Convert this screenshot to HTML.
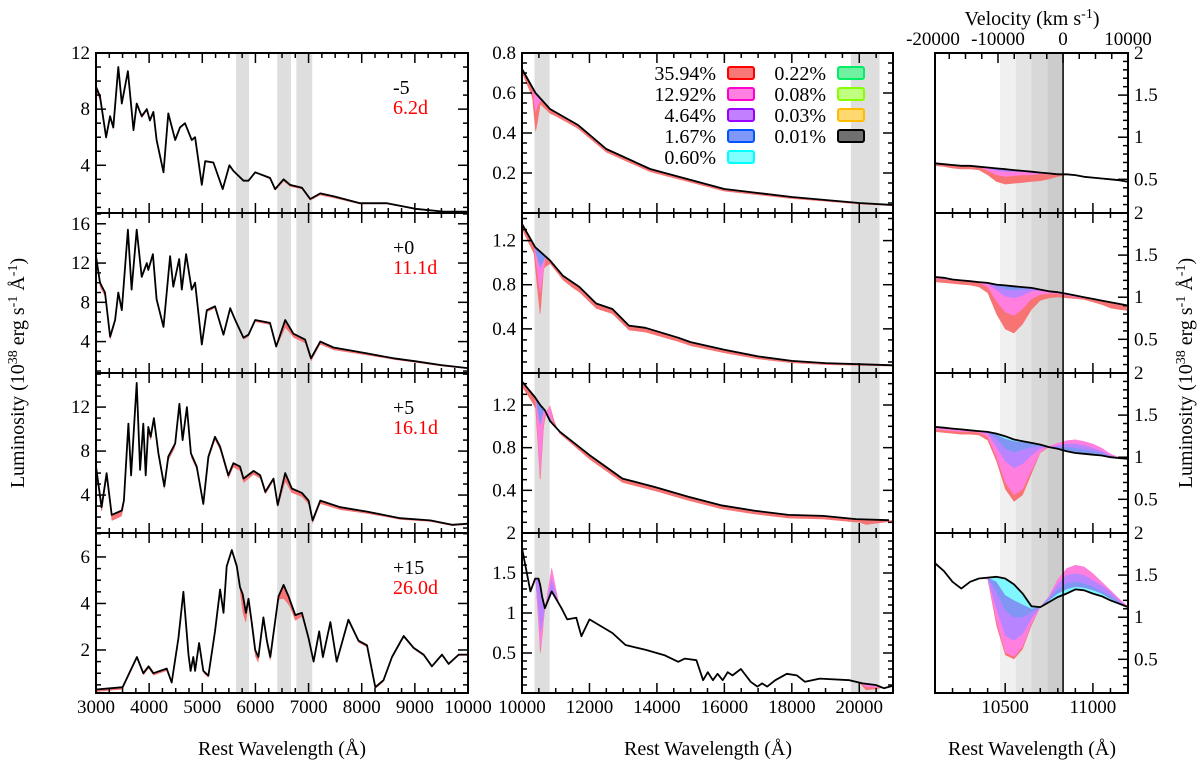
<!DOCTYPE html>
<html><head><meta charset="utf-8"><title>Spectra figure</title>
<style>
html,body{margin:0;padding:0;background:#fff;}
svg, svg text{font-family:"Liberation Serif","Times New Roman","DejaVu Serif",serif;}
</style></head>
<body>
<svg id="fig" width="1200" height="762" viewBox="0 0 1200 762" xmlns="http://www.w3.org/2000/svg" font-family="Liberation Serif, Times New Roman, serif">
<g id="bands"></g>
<g id="marks"></g>
<g id="axes"></g>
<text transform="translate(24,373) rotate(-90)" text-anchor="middle" font-size="20">Luminosity (10<tspan dy="-7" font-size="14">38</tspan><tspan dy="7"> erg s</tspan><tspan dy="-7" font-size="14">-1</tspan><tspan dy="7"> Å</tspan><tspan dy="-7" font-size="14">-1</tspan><tspan dy="7">)</tspan></text>
<text transform="translate(1192,373) rotate(-90)" text-anchor="middle" font-size="20">Luminosity (10<tspan dy="-7" font-size="14">38</tspan><tspan dy="7"> erg s</tspan><tspan dy="-7" font-size="14">-1</tspan><tspan dy="7"> Å</tspan><tspan dy="-7" font-size="14">-1</tspan><tspan dy="7">)</tspan></text>
<text x="282" y="755" text-anchor="middle" font-size="20">Rest Wavelength (Å)</text>
<text x="708" y="755" text-anchor="middle" font-size="20">Rest Wavelength (Å)</text>
<text x="1032" y="755" text-anchor="middle" font-size="20">Rest Wavelength (Å)</text>
<text x="1032" y="25" text-anchor="middle" font-size="20">Velocity (km s<tspan dy="-7" font-size="14">-1</tspan><tspan dy="7">)</tspan></text>
<g id="legend"></g>
</svg>
<script>
// ---------- DATA ----------
const epochLabels = ["-5", "+0", "+5", "+15"];
const dayLabels = ["6.2d", "11.1d", "16.1d", "26.0d"];
const legendLabels = ["35.94%","12.92%","4.64%","1.67%","0.60%","0.22%","0.08%","0.03%","0.01%"];
const legendFill = ["#f87878","#ff80e0","#c080ff","#8098f8","#80ffff","#70f0a0","#c0ff80","#ffd870","#707070"];
const legendStroke = ["#ff0000","#ff00cc","#9900ff","#0055ff","#00ffff","#00ee66","#88ff00","#ffbb00","#000000"];

// Optical panels (column 1)
const optW1 = [3000,3075,3190,3265,3325,3420,3485,3600,3705,3765,3860,3955,4015,4080,4140,4270,4360,4490,4580,4675,4800,4865,4990,5055,5210,5385,5510,5585,5775,5870,5995,6275,6370,6530,6655,6875,7030,7220,7470,7970,8475,9010,9540,9635,10000];
const optL1 = [9.6,8.9,6.0,7.5,6.7,11.0,8.4,10.7,6.5,8.4,7.5,8.0,7.2,7.8,5.8,3.5,7.7,5.8,6.7,7.0,5.8,6.0,2.6,4.3,4.2,2.3,4.0,3.6,2.9,2.9,3.5,3.1,2.3,3.0,2.6,2.4,1.6,2.0,1.8,1.3,1.3,0.9,0.7,0.7,0.7];
const optW2 = [3000,3075,3170,3265,3360,3420,3485,3600,3670,3765,3860,3955,3985,4070,4140,4270,4395,4455,4565,4615,4695,4800,4865,4990,5085,5240,5400,5525,5620,5775,5870,5995,6275,6390,6560,6715,6935,7045,7220,7470,8100,8600,9000,9500,10000];
const optL2 = [12.7,10,9,4.5,6.2,9,7.2,15.4,9.3,15.4,10.6,12,11.3,12.9,8.3,5.5,12.7,9.6,12.4,9.3,12.9,9.3,10,3.7,7.2,7.6,4.7,7.4,6.2,4.4,4.7,6.2,5.9,3.5,6.2,4.8,4.2,2.3,4.0,3.4,2.8,2.3,2.0,1.6,1.3];
const optW3 = [3000,3105,3200,3295,3485,3525,3610,3660,3765,3830,3890,3935,3985,4030,4090,4175,4285,4360,4490,4570,4630,4710,4785,4895,5020,5115,5240,5335,5490,5585,5710,5775,5965,6090,6185,6340,6420,6560,6685,6875,7000,7075,7220,7595,8100,8725,9290,9700,10000];
const optL3 = [6.6,2.9,6.0,2.2,2.6,3.5,10.5,5.8,14.2,6.3,10.5,5.8,10.2,9.3,11,7.8,4.8,7.5,8.7,12.3,9.0,12,7.8,6.6,3.2,7.5,9.3,8.4,5.8,6.9,6.6,5.5,6.2,5.8,4.3,5.5,3.1,6.0,4.6,4.2,3.5,1.7,3.5,2.9,2.5,1.9,1.7,1.3,1.4];
const optW4 = [3000,3500,3770,3890,3990,4080,4330,4425,4550,4645,4740,4780,4830,4865,4940,5020,5115,5240,5335,5400,5460,5555,5650,5710,5760,5820,5870,5930,5995,6055,6150,6215,6280,6435,6530,6625,6750,6875,7000,7095,7200,7270,7410,7530,7750,7940,8100,8255,8410,8570,8790,8975,9165,9320,9510,9635,9825,10000];
const optL4 = [0.3,0.4,1.7,1.0,1.3,1.0,1.2,0.6,2.5,4.5,1.8,1.1,1.7,1.1,2.3,1.1,0.9,2.8,4.6,3.6,5.6,6.3,5.6,4.7,4.4,3.6,4.2,3.2,2.0,1.7,3.4,2.4,1.7,4.3,4.8,4.3,3.5,3.6,2.5,1.5,2.8,1.7,3.2,1.5,3.3,2.4,2.2,0.4,0.7,1.7,2.6,2.1,1.8,1.3,1.8,1.4,1.8,1.8];
const optRedW1 = [3000,3500,4500,6000,6500,6900,7300,8000,10000];
const optRedD1 = [0.3,0.2,0.1,0.05,0.15,0.1,0.15,0.08,0.05];
const optRedW2 = [3000,3500,5000,6400,6550,6700,7200,8500,10000];
const optRedD2 = [0.5,0.3,0.2,0.2,0.8,0.4,0.3,0.15,0.1];
const optRedW3 = [3000,5000,5800,6400,6550,6700,7200,8500,10000];
const optRedD3 = [0.6,0.3,0.4,0.2,0.8,0.4,0.3,0.15,0.1];
const optRedW4 = [3000,5700,5760,5850,6450,6530,6650,7000,10000];
const optRedD4 = [0.1,0.1,0.8,0.3,0.2,0.6,0.3,0.1,0.05];

// NIR panels (column 2)
const nirW1 = [10000,10400,10830,11660,12500,13800,14680,16000,17000,18000,19000,20000,21000];
const nirL1 = [0.72,0.60,0.52,0.44,0.32,0.22,0.18,0.12,0.10,0.08,0.065,0.05,0.04];
const nirW2 = [10000,10390,10830,11220,11700,12200,12680,13170,13660,14630,15000,16000,17000,18000,19000,20000,21000];
const nirL2 = [1.35,1.14,1.02,0.88,0.78,0.63,0.58,0.43,0.41,0.32,0.28,0.21,0.15,0.11,0.09,0.08,0.07];
const nirW3 = [10000,10390,10540,10680,10830,11120,12000,12980,13950,14930,15900,16880,17900,18930,19900,20880];
const nirL3 = [1.42,1.27,1.20,1.15,1.05,0.95,0.73,0.51,0.43,0.34,0.26,0.21,0.17,0.16,0.13,0.12];
const nirW4 = [10000,10250,10390,10490,10540,10600,10680,10880,11170,11340,11610,11760,12000,12680,13070,13660,14240,14630,14830,15170,15370,15510,15660,15800,15950,16100,16240,16490,16780,16980,17120,17270,17510,17850,18150,18390,18830,19710,20100,20490,20730,21000];
const nirL4 = [1.81,1.27,1.43,1.43,1.35,1.2,1.06,1.27,1.06,0.92,0.94,0.71,0.92,0.75,0.60,0.54,0.47,0.39,0.43,0.41,0.16,0.26,0.16,0.24,0.16,0.26,0.22,0.30,0.14,0.08,0.12,0.08,0.16,0.24,0.22,0.14,0.18,0.16,0.12,0.10,0.06,0.09];
const nirRedW1 = [10000,10300,10400,10450,10550,11000,14000,21000];
const nirRedD1 = [0.02,0.05,0.2,0.15,0.03,0.02,0.015,0.005];
const nirMagW1 = [10300,10400,10500,10600];
const nirMagD1 = [0,0.1,0.03,0];
const nirRedW2 = [10000,10350,10540,10650,10830,11500,14000,18000,21000];
const nirRedD2 = [0.05,0.08,0.6,0.12,0.03,0.05,0.04,0.02,0.01];
const nirMagW2 = [10350,10540,10700];
const nirMagD2 = [0,0.4,0];
const nirBluW2 = [10350,10540,10700];
const nirBluD2 = [0,0.15,0];
const nirRedW3 = [10000,10300,10400,10540,10650,10750,10830,10950,11100,12000,20000,20200,21000];
const nirRedD3 = [0.05,0.08,0.1,0.75,0.15,-0.05,-0.15,-0.05,0.02,0.04,0.03,0.05,0.01];
const nirMagW3 = [10400,10540,10650,10830,10950];
const nirMagD3 = [0,0.7,0.1,-0.15,0];
const nirBluW3 = [10400,10540,10650,10830,10950];
const nirBluD3 = [0,0.2,0,-0.03,0];
const nirRedW4 = [10400,10540,10680,10880,11100,20000,20200,20500,20700];
const nirRedD4 = [0,0.9,0,-0.3,0,0,0.08,0.05,0];
const nirMagW4 = [10400,10540,10680,10880,11100,20000,20200,20500,20700];
const nirMagD4 = [0,0.85,0,-0.3,0,0,0.04,0.03,0];
const nirBluW4 = [10400,10540,10680,10880,11100];
const nirBluD4 = [0,0.6,0,-0.15,0];

// He I 10830 zoom panels (column 3)
const zoomW = [10100,10150,10200,10250,10300,10350,10400,10450,10500,10550,10600,10650,10700,10750,10800,10850,10900,10950,11000,11050,11100,11150,11200];
const zBlack1 = [0.69,0.68,0.67,0.66,0.66,0.65,0.64,0.63,0.62,0.61,0.60,0.59,0.58,0.57,0.56,0.56,0.55,0.53,0.52,0.51,0.50,0.49,0.47];
const zRed1 = [0.66,0.65,0.63,0.62,0.62,0.61,0.55,0.47,0.44,0.45,0.46,0.47,0.48,0.50,0.53,0.55,0.54,0.52,0.51,0.50,0.49,0.48,0.46];
const zMag1 = [0.69,0.68,0.67,0.66,0.66,0.65,0.60,0.55,0.53,0.54,0.55,0.55,0.56,0.56,0.56,0.56,0.55,0.53,0.52,0.51,0.50,0.49,0.47];
const zPur1 = [0.69,0.68,0.67,0.66,0.66,0.65,0.63,0.60,0.59,0.59,0.59,0.58,0.58,0.57,0.56,0.56,0.55,0.53,0.52,0.51,0.50,0.49,0.47];
const zBlack2 = [1.24,1.23,1.21,1.20,1.19,1.18,1.17,1.15,1.14,1.13,1.12,1.11,1.09,1.07,1.06,1.04,1.02,1.00,0.98,0.96,0.94,0.92,0.90];
const zRed2 = [1.18,1.17,1.16,1.15,1.14,1.12,1.05,0.80,0.62,0.57,0.68,0.85,0.96,0.99,1.00,0.99,0.98,0.97,0.94,0.91,0.87,0.85,0.84];
const zMag2 = [1.22,1.21,1.20,1.19,1.18,1.17,1.12,0.95,0.82,0.78,0.86,0.98,1.03,1.04,1.04,1.02,1.00,0.99,0.97,0.95,0.93,0.91,0.89];
const zPur2 = [1.24,1.23,1.21,1.20,1.19,1.18,1.16,1.08,1.01,0.99,1.02,1.07,1.08,1.07,1.06,1.04,1.02,1.00,0.98,0.96,0.94,0.92,0.90];
const zBlu2 = [1.24,1.23,1.21,1.20,1.19,1.18,1.17,1.13,1.09,1.08,1.09,1.10,1.09,1.07,1.06,1.04,1.02,1.00,0.98,0.96,0.94,0.92,0.90];
const zBlack3 = [1.36,1.35,1.34,1.33,1.32,1.31,1.30,1.28,1.25,1.21,1.19,1.17,1.15,1.12,1.10,1.07,1.05,1.04,1.03,1.02,1.00,0.99,0.98];
const zRed3 = [1.30,1.29,1.28,1.27,1.27,1.26,1.20,0.95,0.62,0.47,0.55,0.80,1.05,1.12,1.16,1.19,1.20,1.18,1.15,1.10,1.03,1.00,0.97];
const zMag3 = [1.33,1.32,1.31,1.30,1.30,1.29,1.24,1.00,0.70,0.55,0.62,0.84,1.06,1.13,1.17,1.20,1.21,1.19,1.16,1.11,1.04,1.00,0.98];
const zPur3 = [1.36,1.35,1.34,1.33,1.32,1.31,1.28,1.12,0.95,0.87,0.92,1.02,1.10,1.12,1.14,1.16,1.16,1.14,1.11,1.07,1.02,0.99,0.98];
const zBlu3 = [1.36,1.35,1.34,1.33,1.32,1.31,1.30,1.22,1.10,1.06,1.09,1.12,1.13,1.12,1.12,1.12,1.11,1.09,1.07,1.05,1.01,0.99,0.98];
const zCya3 = [1.36,1.35,1.34,1.33,1.32,1.31,1.30,1.27,1.22,1.19,1.18,1.16,1.14,1.12,1.10,1.08,1.06,1.05,1.04,1.03,1.00,0.99,0.98];
const zBlack4 = [1.64,1.55,1.42,1.34,1.42,1.46,1.47,1.48,1.46,1.39,1.28,1.13,1.12,1.18,1.24,1.28,1.33,1.32,1.28,1.25,1.20,1.16,1.12];
const zRed4 = [1.66,1.56,1.43,1.35,1.42,1.46,1.45,0.90,0.55,0.50,0.62,0.90,1.12,1.25,1.45,1.58,1.62,1.60,1.52,1.42,1.32,1.22,1.13];
const zMag4 = [1.66,1.56,1.43,1.35,1.42,1.46,1.45,0.95,0.58,0.53,0.65,0.92,1.12,1.25,1.45,1.58,1.62,1.60,1.52,1.42,1.32,1.22,1.13];
const zPur4 = [1.64,1.55,1.42,1.34,1.42,1.46,1.46,1.10,0.78,0.72,0.80,0.98,1.12,1.24,1.40,1.50,1.52,1.50,1.44,1.38,1.30,1.20,1.12];
const zBlu4 = [1.64,1.55,1.42,1.34,1.42,1.46,1.47,1.30,1.08,1.00,1.00,1.06,1.12,1.22,1.33,1.40,1.42,1.40,1.36,1.31,1.25,1.18,1.12];
const zCya4 = [1.64,1.55,1.42,1.34,1.42,1.46,1.47,1.42,1.26,1.20,1.15,1.10,1.12,1.20,1.28,1.33,1.36,1.35,1.32,1.28,1.22,1.17,1.12];

const optBands = [[5635,5880],[6410,6670],[6770,7070]];
const nirBands = [[10370,10820],[19750,20600]];
const zoomBandEdges = [10470,10560,10650,10740,10830];
const velTicks = [-20000,-10000,0,10000];

// ---------- LAYOUT ----------
const FONT = 'Liberation Serif, Times New Roman, DejaVu Serif, serif';
const COLX = [[96,468],[522,893],[935,1128]];
const ROWY = [53,213,373,533,693];
const XR = [[3000,10000],[10000,21000],[10100,11200]];
const YR = [
  [[0.6,12],[0.8,17.1],[0.55,15.1],[0.15,7.03]],
  [[0,0.8],[0,1.45],[0,1.5],[0,2]],
  [[0.1,2],[0.1,2],[0.1,2],[0.1,2]]
];
const NS = 'http://www.w3.org/2000/svg';
const gB = document.getElementById('bands');
const gM = document.getElementById('marks');
const gA = document.getElementById('axes');
const svg = document.getElementById('fig');

function mk(tag, attrs, parent, name) {
  const e = document.createElementNS(NS, tag);
  for (const k in attrs) e.setAttribute(k, attrs[k]);
  if (tag === 'text') e.setAttribute('font-family', FONT);
  
  
  parent.appendChild(e);
  return e;
}
function interp(W, V, x) {
  if (x <= W[0]) return V[0];
  if (x >= W[W.length-1]) return V[V.length-1];
  for (let i = 1; i < W.length; i++) if (x <= W[i]) {
    const t = (x - W[i-1]) / (W[i] - W[i-1]);
    return V[i-1] + t * (V[i] - V[i-1]);
  }
}
function panel(ci, ri) {
  const [x0, x1] = COLX[ci], y0 = ROWY[ri], y1 = ROWY[ri+1];
  const [xl, xh] = XR[ci], [lo, hi] = YR[ci][ri];
  return { ci, ri, x0, x1, y0, y1, xl, xh, lo, hi,
    x: w => x0 + (w - xl) / (xh - xl) * (x1 - x0),
    y: v => y1 - (v - lo) / (hi - lo) * (y1 - y0) };
}
const defs = mk('defs', {}, svg, 'clip-defs');
function clipFor(p) {
  const id = 'c' + p.ci + p.ri;
  const cp = mk('clipPath', {id}, defs, 'clip-path');
  mk('rect', {x:p.x0, y:p.y0, width:p.x1-p.x0, height:p.y1-p.y0}, cp, 'clip-rect');
  return 'url(#' + id + ')';
}
function linePath(p, W, V, g, name) {
  let d = '';
  W.forEach((w, i) => { d += (i ? 'L' : 'M') + p.x(w).toFixed(1) + ',' + p.y(V[i]).toFixed(1); });
  mk('path', {d, fill:'none', stroke:'#000', 'stroke-width':1.8, 'stroke-linejoin':'round'}, g, name);
}
function deficitFill(p, W, V, dW, dD, color, g, name) {
  const n = 500, top = [], bot = [];
  for (let i = 0; i <= n; i++) {
    const w = p.xl + (p.xh - p.xl) * i / n;
    const b = interp(W, V, w);
    const d = (w < dW[0] || w > dW[dW.length-1]) ? 0 : interp(dW, dD, w);
    top.push(p.x(w).toFixed(1) + ',' + p.y(b).toFixed(1));
    bot.push(p.x(w).toFixed(1) + ',' + p.y(b - d).toFixed(1));
  }
  mk('polygon', {points: top.concat(bot.reverse()).join(' '), fill: color, stroke: 'none'}, g, name);
}
function layerFill(p, W, B, L, color, g, name) {
  const top = W.map((w, i) => p.x(w).toFixed(1) + ',' + p.y(B[i]).toFixed(1));
  const bot = W.map((w, i) => p.x(w).toFixed(1) + ',' + p.y(L[i]).toFixed(1)).reverse();
  mk('polygon', {points: top.concat(bot).join(' '), fill: color, stroke: 'none'}, g, name);
}
function ticksY(p, minor, major, side, labels, fmt) {
  const L = side === 'left' ? p.x0 : p.x1, dir = side === 'left' ? 1 : -1;
  for (let v = Math.ceil(p.lo / minor - 1e-6) * minor; v <= p.hi + 1e-9; v += minor) {
    const isMaj = Math.abs(v / major - Math.round(v / major)) < 1e-6;
    const yy = p.y(v);
    mk('line', {x1:L, x2:L + dir * (isMaj ? 10 : 5), y1:yy, y2:yy, stroke:'#000', 'stroke-width':1.5}, gA, 'y-tick');
  }
  labels.forEach(v => {
    const t = mk('text', {x: side === 'left' ? p.x0 - 6 : p.x1 + 6, y: p.y(v) + 6, 'text-anchor': side === 'left' ? 'end' : 'start', 'font-size': 19}, gA, 'y-tick-label');
    t.textContent = fmt(v);
  });
}
function ticksX(p, minor, major, both) {
  for (let w = Math.ceil(p.xl / minor) * minor; w <= p.xh + 1e-6; w += minor) {
    const isMaj = w % major === 0, xx = p.x(w), len = isMaj ? 10 : 5;
    mk('line', {x1:xx, x2:xx, y1:p.y1, y2:p.y1 - len, stroke:'#000', 'stroke-width':1.5}, gA, 'x-tick');
    if (both) mk('line', {x1:xx, x2:xx, y1:p.y0, y2:p.y0 + len, stroke:'#000', 'stroke-width':1.5}, gA, 'x-tick');
  }
}

const RED = '#f87474', MAG = '#ff7ede', PUR = '#b984ff', BLU = '#7f96f2', CYA = '#80f6ff';

// ---------- BANDS ----------
{
  const p = panel(0,0);
  optBands.forEach(b => mk('rect', {x:p.x(b[0]), y:ROWY[0], width:p.x(b[1])-p.x(b[0]), height:ROWY[4]-ROWY[0], fill:'#dedede'}, gB, 'optical-shaded-band'));
  const q = panel(1,0);
  nirBands.forEach(b => mk('rect', {x:q.x(b[0]), y:ROWY[0], width:q.x(b[1])-q.x(b[0]), height:ROWY[4]-ROWY[0], fill:'#dedede'}, gB, 'nir-shaded-band'));
  const z = panel(2,0);
  const shades = ['#f0f0f0','#e4e4e4','#d8d8d8','#cccccc'];
  for (let i = 0; i < 4; i++) mk('rect', {x:z.x(zoomBandEdges[i]), y:ROWY[0], width:z.x(zoomBandEdges[i+1])-z.x(zoomBandEdges[i]), height:ROWY[4]-ROWY[0], fill:shades[i]}, gB, 'velocity-shaded-band');
  mk('line', {x1:z.x(10830), x2:z.x(10830), y1:ROWY[0], y2:ROWY[4], stroke:'#000', 'stroke-width':1.5}, gA, 'he-rest-line');
}

// ---------- COLUMN 1 ----------
const optW = [optW1, optW2, optW3, optW4], optL = [optL1, optL2, optL3, optL4];
const optRW = [optRedW1, optRedW2, optRedW3, optRedW4], optRD = [optRedD1, optRedD2, optRedD3, optRedD4];
const optTickLabels = [[4,8,12],[4,8,12,16],[4,8,12],[2,4,6]];
const optMinor = [1,1,1,0.5], optMajor = [4,4,4,2];
for (let r = 0; r < 4; r++) {
  const p = panel(0, r);
  const g = mk('g', {'clip-path': clipFor(p)}, gM, 'optical-panel-' + r);
  deficitFill(p, optW[r], optL[r], optRW[r], optRD[r], RED, g, 'model-red-band');
  linePath(p, optW[r], optL[r], g, 'observed-spectrum');
  mk('rect', {x:p.x0, y:p.y0, width:p.x1-p.x0, height:p.y1-p.y0, fill:'none', stroke:'#000', 'stroke-width':2}, gA, 'panel-frame');
  ticksX(p, 250, 1000, true);
  ticksY(p, optMinor[r], optMajor[r], 'left', optTickLabels[r], v => String(v));
  ticksY(p, optMinor[r], optMajor[r], 'right', [], v => '');
  const t1 = mk('text', {x:393, y:p.y0 + 41, 'font-size': 20, fill:'#000'}, gA, 'epoch-label');
  t1.textContent = epochLabels[r];
  const t2 = mk('text', {x:393, y:p.y0 + 61, 'font-size': 20, fill:'#ff0000'}, gA, 'day-label');
  t2.textContent = dayLabels[r];
}
{
  const p = panel(0,3);
  for (let w = 3000; w <= 10000; w += 1000) {
    const t = mk('text', {x:p.x(w), y:713, 'text-anchor':'middle', 'font-size':19}, gA, 'x-tick-label');
    t.textContent = String(w);
  }
}

// ---------- COLUMN 2 ----------
const nirW = [nirW1, nirW2, nirW3, nirW4], nirL = [nirL1, nirL2, nirL3, nirL4];
const nirLayers = [
  [[nirRedW1, nirRedD1, RED], [nirMagW1, nirMagD1, MAG]],
  [[nirRedW2, nirRedD2, RED], [nirMagW2, nirMagD2, MAG], [nirBluW2, nirBluD2, BLU]],
  [[nirRedW3, nirRedD3, RED], [nirMagW3, nirMagD3, MAG], [nirBluW3, nirBluD3, BLU]],
  [[nirRedW4, nirRedD4, RED], [nirMagW4, nirMagD4, MAG], [nirBluW4, nirBluD4, PUR]]
];
const nirTickLabels = [[0.2,0.4,0.6,0.8],[0.4,0.8,1.2],[0.4,0.8,1.2],[0.5,1,1.5,2]];
const nirMinor = [0.05,0.1,0.1,0.1], nirMajor = [0.2,0.4,0.4,0.5];
for (let r = 0; r < 4; r++) {
  const p = panel(1, r);
  const g = mk('g', {'clip-path': clipFor(p)}, gM, 'nir-panel-' + r);
  nirLayers[r].forEach(L => deficitFill(p, nirW[r], nirL[r], L[0], L[1], L[2], g, 'model-band'));
  linePath(p, nirW[r], nirL[r], g, 'observed-spectrum');
  mk('rect', {x:p.x0, y:p.y0, width:p.x1-p.x0, height:p.y1-p.y0, fill:'none', stroke:'#000', 'stroke-width':2}, gA, 'panel-frame');
  ticksX(p, 500, 2000, true);
  ticksY(p, nirMinor[r], nirMajor[r], 'left', nirTickLabels[r], v => String(v % 1 === 0 ? v : v.toFixed(1)));
  ticksY(p, nirMinor[r], nirMajor[r], 'right', [], v => '');
}
{
  const p = panel(1,3);
  for (let w = 10000; w <= 20000; w += 2000) {
    const t = mk('text', {x:p.x(w), y:713, 'text-anchor':'middle', 'font-size':19}, gA, 'x-tick-label');
    t.textContent = String(w);
  }
}

// ---------- COLUMN 3 ----------
const zBlack = [zBlack1, zBlack2, zBlack3, zBlack4];
const zLayers = [
  [[zRed1, RED], [zMag1, MAG], [zPur1, PUR]],
  [[zRed2, RED], [zMag2, MAG], [zPur2, PUR], [zBlu2, BLU]],
  [[zRed3, RED], [zMag3, MAG], [zPur3, PUR], [zBlu3, BLU], [zCya3, CYA]],
  [[zRed4, RED], [zMag4, MAG], [zPur4, PUR], [zBlu4, BLU], [zCya4, CYA]]
];
for (let r = 0; r < 4; r++) {
  const p = panel(2, r);
  const g = mk('g', {'clip-path': clipFor(p)}, gM, 'zoom-panel-' + r);
  zLayers[r].forEach(L => layerFill(p, zoomW, zBlack[r], L[0], L[1], g, 'model-layer'));
  linePath(p, zoomW, zBlack[r], g, 'observed-spectrum');
  mk('rect', {x:p.x0, y:p.y0, width:p.x1-p.x0, height:p.y1-p.y0, fill:'none', stroke:'#000', 'stroke-width':2}, gA, 'panel-frame');
  ticksX(p, 100, 500, r > 0);
  ticksY(p, 0.1, 0.5, 'right', [0.5,1,1.5,2], v => String(v));
}
{
  const p = panel(2,3);
  [10500, 11000].forEach(w => {
    const t = mk('text', {x:p.x(w), y:713, 'text-anchor':'middle', 'font-size':19}, gA, 'x-tick-label');
    t.textContent = String(w);
  });
  const vx = v => 1063 + v * 0.0065;
  for (let v = -17500; v <= 10000; v += 2500) {
    const maj = v % 10000 === 0;
    if (vx(v) < 937 || vx(v) > 1126) continue;
    mk('line', {x1:vx(v), x2:vx(v), y1:ROWY[0], y2:ROWY[0] + (maj ? 10 : 6), stroke:'#000', 'stroke-width':1.5}, gA, 'velocity-tick');
  }
  velTicks.forEach(v => {
    const t = mk('text', {x:vx(v), y:45, 'text-anchor':'middle', 'font-size':19}, gA, 'velocity-tick-label');
    t.textContent = String(v);
  });
}

// ---------- LEGEND ----------
{
  const g = document.getElementById('legend');
  const rowsY = [73,94,115,136,157];
  legendLabels.forEach((lab, i) => {
    const col = i < 5 ? 0 : 1, row = i < 5 ? i : i - 5;
    const tx = col ? 826 : 716, sx = col ? 838 : 728;
    const t = mk('text', {x:tx, y:rowsY[row] + 7, 'text-anchor':'end', 'font-size':20}, g, 'legend-label');
    t.textContent = lab;
    mk('rect', {x:sx, y:rowsY[row] - 6, width:26, height:12, rx:2, fill:legendFill[i], stroke:legendStroke[i], 'stroke-width':2}, g, 'legend-swatch');
  });
}
</script>
</body></html>
